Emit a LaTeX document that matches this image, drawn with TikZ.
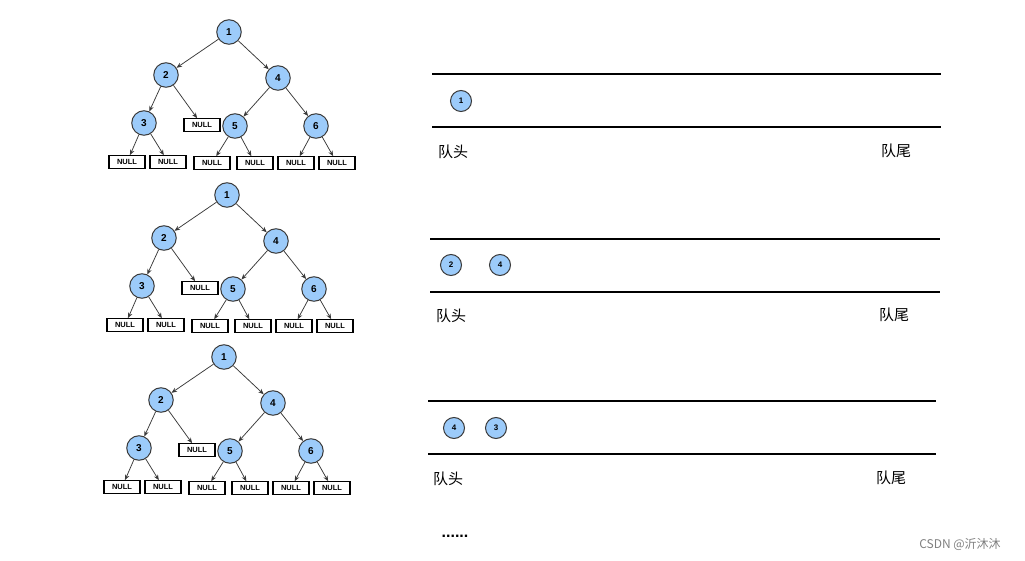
\documentclass[tikz,border=0pt]{standalone}
\usepackage{fontspec}
\setmainfont{Liberation Sans}
\newfontfamily\cjk{Noto Sans CJK SC}
\usetikzlibrary{arrows.meta}
\definecolor{nodeblue}{HTML}{9CCBFA}
\definecolor{edgegray}{HTML}{3A3A3A}
\tikzset{
  tn/.style={circle,draw=edgegray,line width=1pt,fill=nodeblue,minimum size=24.5pt,inner sep=0pt,font=\fontsize{10}{10}\selectfont\bfseries},
  qn/.style={circle,draw=edgegray,line width=1pt,fill=nodeblue,minimum size=21pt,inner sep=0pt,font=\fontsize{8}{8}\selectfont\bfseries},
  nullbox/.style={draw=black,line width=1.1pt,fill=white,minimum width=36pt,minimum height=12.5pt,inner sep=0pt,font=\fontsize{7.5}{7.5}\selectfont\bfseries},
  edge/.style={draw=edgegray,line width=0.75pt,-{Stealth[length=5.5pt,width=4.5pt]}},
  qline/.style={draw=black,line width=1.2pt},
  lbl/.style={font=\cjk\fontsize{15}{15}\selectfont,inner sep=0pt}
}
\newcommand{\drawtree}[1]{%
  \node[tn] (#1a) at (229,-32) {1};
  \node[tn] (#1b) at (166,-75) {2};
  \node[tn] (#1d) at (278,-78) {4};
  \node[tn] (#1c) at (144,-123) {3};
  \node[nullbox] (#1n0) at (202,-125) {NULL};
  \node[tn] (#1e) at (235,-126) {5};
  \node[tn] (#1f) at (316,-126) {6};
  \node[nullbox] (#1n1) at (127,-162) {NULL};
  \node[nullbox] (#1n2) at (168,-162) {NULL};
  \node[nullbox] (#1n3) at (212,-163) {NULL};
  \node[nullbox] (#1n4) at (255,-163) {NULL};
  \node[nullbox] (#1n5) at (296,-163) {NULL};
  \node[nullbox] (#1n6) at (337,-163) {NULL};
  \draw[edge] (#1a) -- (#1b);
  \draw[edge] (#1a) -- (#1d);
  \draw[edge] (#1b) -- (#1c);
  \draw[edge] (#1b) -- (#1n0);
  \draw[edge] (#1d) -- (#1e);
  \draw[edge] (#1d) -- (#1f);
  \draw[edge] (#1c) -- (#1n1);
  \draw[edge] (#1c) -- (#1n2);
  \draw[edge] (#1e) -- (#1n3);
  \draw[edge] (#1e) -- (#1n4);
  \draw[edge] (#1f) -- (#1n5);
  \draw[edge] (#1f) -- (#1n6);
}
\begin{document}
\begin{tikzpicture}[x=1pt,y=1pt]
\useasboundingbox[fill=white] (0,0) rectangle (1025,-561);
\begin{scope}\drawtree{ta}\end{scope}
\begin{scope}[shift={(-2,-163)}]\drawtree{tb}\end{scope}
\begin{scope}[shift={(-5,-325)}]\drawtree{tc}\end{scope}
% queue 1
\coordinate (q1tl) at (432,-74); \coordinate (q1tr) at (941,-74);
\coordinate (q1bl) at (432,-127); \coordinate (q1br) at (941,-127);
\draw[qline] (q1tl) -- (q1tr);
\draw[qline] (q1bl) -- (q1br);
\node[qn] (q1a) at (461,-101) {1};
\node[lbl] (q1h) at (453,-152) {队头};
\node[lbl] (q1t) at (896,-151) {队尾};
% queue 2
\coordinate (q2tl) at (430,-239); \coordinate (q2tr) at (940,-239);
\coordinate (q2bl) at (430,-292); \coordinate (q2br) at (940,-292);
\draw[qline] (q2tl) -- (q2tr);
\draw[qline] (q2bl) -- (q2br);
\node[qn] (q2a) at (451,-265) {2};
\node[qn] (q2b) at (500,-265) {4};
\node[lbl] (q2h) at (451,-316) {队头};
\node[lbl] (q2t) at (894,-315) {队尾};
% queue 3
\coordinate (q3tl) at (428,-401); \coordinate (q3tr) at (936,-401);
\coordinate (q3bl) at (428,-454); \coordinate (q3br) at (936,-454);
\draw[qline] (q3tl) -- (q3tr);
\draw[qline] (q3bl) -- (q3br);
\node[qn] (q3a) at (454,-428) {4};
\node[qn] (q3b) at (496,-428) {3};
\node[lbl] (q3h) at (448,-479) {队头};
\node[lbl] (q3t) at (891,-478) {队尾};
\node[font=\fontsize{16}{16}\selectfont\bfseries,inner sep=0pt] (dots) at (455,-536) {......};
\node[font=\cjk\fontsize{12}{12}\selectfont,text=gray,inner sep=0pt] (wm) at (960,-545) {CSDN @沂沐沐};
\end{tikzpicture}
\end{document}
